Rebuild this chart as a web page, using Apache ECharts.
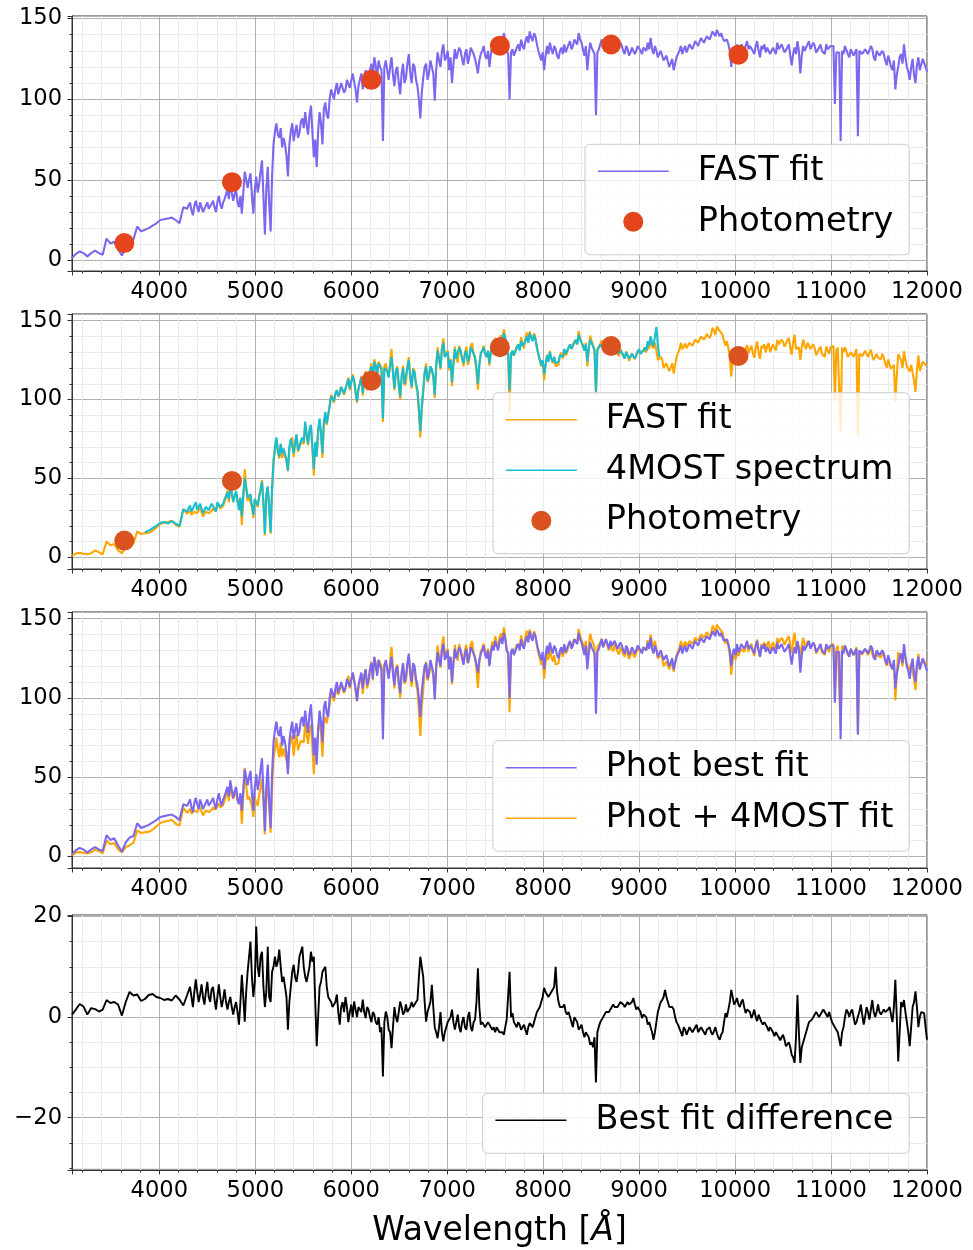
<!DOCTYPE html>
<html><head><meta charset="utf-8">
<script src="https://cdn.jsdelivr.net/npm/echarts@6/dist/echarts.min.js"></script>
<style>html,body{margin:0;padding:0;background:#fff}#chart{width:973px;height:1250px}</style>
</head><body><div id="chart"></div>
<script>
// ---- wavelength grid (Angstrom): 40 A steps up to 4290, then 15 A steps ----
const wave = [
3090,3130,3170,3210,3250,3290,3330,3370,3410,3450,3490,3530,3570,3610,3650,3690,3730,3770,3810,3850,3890,3930,3970,4010,4050,4090,4130,4170,4210,4250,4290,
4320,4335,4350,4365,4380,4395,4410,4425,4440,4455,4470,4485,4500,4515,4530,4545,4560,4575,4590,4605,
4620,4635,4650,4665,4680,4695,4710,4725,4740,4755,4770,4785,4800,4815,4830,4845,4860,4875,4890,4905,
4920,4935,4950,4965,4980,4995,5010,5025,5040,5055,5070,5085,5100,5115,5130,5145,5160,5175,5190,5205,
5220,5235,5250,5265,5280,5295,5310,5325,5340,5355,5370,5385,5400,5415,5430,5445,5460,5475,5490,5505,
5520,5535,5550,5565,5580,5595,5610,5625,5640,5655,5670,5685,5700,5715,5730,5745,5760,5775,5790,5805,
5820,5835,5850,5865,5880,5895,5910,5925,5940,5955,5970,5985,6000,6015,6030,6045,6060,6075,6090,6105,
6120,6135,6150,6165,6180,6195,6210,6225,6240,6255,6270,6285,6300,6315,6330,6345,6360,6375,6390,6405,
6420,6435,6450,6465,6480,6495,6510,6525,6540,6555,6570,6585,6600,6615,6630,6645,6660,6675,6690,6705,
6720,6735,6750,6765,6780,6795,6810,6825,6840,6855,6870,6885,6900,6915,6930,6945,6960,6975,6990,7005,
7020,7035,7050,7065,7080,7095,7110,7125,7140,7155,7170,7185,7200,7215,7230,7245,7260,7275,7290,7305,
7320,7335,7350,7365,7380,7395,7410,7425,7440,7455,7470,7485,7500,7515,7530,7545,7560,7575,7590,7605,
7620,7635,7650,7665,7680,7695,7710,7725,7740,7755,7770,7785,7800,7815,7830,7845,7860,7875,7890,7905,
7920,7935,7950,7965,7980,7995,8010,8025,8040,8055,8070,8085,8100,8115,8130,8145,8160,8175,8190,8205,
8220,8235,8250,8265,8280,8295,8310,8325,8340,8355,8370,8385,8400,8415,8430,8445,8460,8475,8490,8505,
8520,8535,8550,8565,8580,8595,8610,8625,8640,8655,8670,8685,8700,8715,8730,8745,8760,8775,8790,8805,
8820,8835,8850,8865,8880,8895,8910,8925,8940,8955,8970,8985,9000,9015,9030,9045,9060,9075,9090,9105,
9120,9135,9150,9165,9180,9195,9210,9225,9240,9255,9270,9285,9300,9315,9330,9345,9360,9375,9390,9405,
9420,9435,9450,9465,9480,9495,9510,9525,9540,9555,9570,9585,9600,9615,9630,9645,9660,9675,9690,9705,
9720,9735,9750,9765,9780,9795,9810,9825,9840,9855,9870,9885,9900,9915,9930,9945,9960,9975,9990,10005,
10020,10035,10050,10065,10080,10095,10110,10125,10140,10155,10170,10185,10200,10215,10230,10245,10260,10275,10290,10305,
10320,10335,10350,10365,10380,10395,10410,10425,10440,10455,10470,10485,10500,10515,10530,10545,10560,10575,10590,10605,
10620,10635,10650,10665,10680,10695,10710,10725,10740,10755,10770,10785,10800,10815,10830,10845,10860,10875,10890,10905,
10920,10935,10950,10965,10980,10995,11010,11025,11040,11055,11070,11085,11100,11115,11130,11145,11160,11175,11190,11205,
11220,11235,11250,11265,11280,11295,11310,11325,11340,11355,11370,11385,11400,11415,11430,11445,11460,11475,11490,11505,
11520,11535,11550,11565,11580,11595,11610,11625,11640,11655,11670,11685,11700,11715,11730,11745,11760,11775,11790,11805,
11820,11835,11850,11865,11880,11895,11910,11925,11940,11955,11970,11985,12000
];

// ---- photometry-only best fit (FAST fit, panel 1 / Phot best fit, panel 3) ----
const photFit = [
1.5,4,5.5,4.5,2.5,4.5,6,4.5,3.5,13.5,10.5,11.5,7,3,9,12,13,21,18,19,20,21.5,23,25,25.5,26,26.5,25,23,33,32,
36,31,28,34,37,33,30,36,35,30,29,34,36,32,31,35,37,33,30,36,
40,35,32,36,38,41,44,38,48,42,37,41,44,36,33,40,29,42,55,50,
45,50,54,40,29,44,52,42,47,55,62,40,16,44,58,35,18,52,72,80,
85,78,76,82,70,76,72,65,52,72,80,85,74,80,84,76,79,86,88,82,
92,84,78,90,96,80,64,75,58,80,92,85,72,94,98,90,88,100,106,103,
100,106,110,103,104,110,111,104,106,112,113,107,108,116,115,106,98,108,112,116,
106,114,118,108,111,118,122,112,126,121,114,124,120,118,74,120,124,118,112,120,
126,115,108,118,120,110,103,116,122,110,113,122,128,116,110,122,120,112,108,100,
88,104,113,120,122,112,116,124,125,116,99,118,129,124,120,130,134,124,126,130,
118,126,110,122,131,125,124,132,130,125,121,128,131,122,126,132,133,128,125,121,
116,124,128,130,133,127,125,130,120,128,133,130,136,133,130,135,138,134,141,137,
130,128,100,129,131,127,126,132,134,130,137,133,131,136,139,135,142,138,136,141,
139,134,130,127,124,129,118,127,133,128,135,131,128,133,131,127,125,130,132,128,
134,129,130,134,136,131,133,137,138,134,141,137,135,131,127,133,118,128,135,132,
130,128,90,129,131,134,137,132,135,137,134,131,136,133,132,136,135,131,130,135,
133,130,128,133,131,127,129,132,133,128,130,133,134,130,128,132,133,130,135,131,
138,131,128,133,130,126,127,130,129,124,125,127,123,120,121,125,118,122,126,128,
130,133,128,131,133,129,130,134,135,131,132,136,137,133,134,138,139,135,136,139,
140,137,138,142,141,139,143,141,139,141,138,136,135,137,134,130,120,128,131,127,
134,129,131,134,135,131,133,136,131,133,134,130,128,133,136,130,126,133,131,134,
129,132,133,128,127,132,131,128,135,131,130,134,133,129,128,132,134,127,121,128,
132,128,136,130,116,127,133,130,129,134,136,131,131,135,133,129,128,132,134,130,
131,128,134,131,130,133,132,133,97,129,130,129,74,130,128,133,132,128,126,131,
130,127,128,131,77,130,131,128,127,131,132,128,129,133,131,126,124,130,129,127,
126,130,128,124,121,127,124,120,118,124,106,115,120,126,128,122,134,126,120,117,
112,120,125,115,110,121,126,118,119,125,124,120,117
];

// ---- photometry + 4MOST fit (FAST fit, panel 2 / Phot + 4MOST fit, panel 3) ----
const jointFit = [
1.0,2.5,2.9,2.4,2.0,2.7,4.4,3.4,2.0,10.1,7.7,8.5,4.5,2.7,6.0,7.0,8.7,16.5,14.8,15.4,15.6,16.9,19.0,21.2,22.1,22.4,23.2,20.7,19.5,30.7,27.6,
30,27,26,29,29.5,28,27,31.5,28.5,26,26.5,29,29,28,28,29.5,31,29.5,28.5,32,
33.5,31,30,32.5,32.5,38,42.5,35,44,40,36.5,39,41,35,34.5,37,20.6,38,55.9,45,
36,38,39,32,25,37,34,32,39,43,49,34,14,39,44,31,15,43,62,68,
75,67,62.6,72,63,68,64,61,54.5,69,74,76,63.6,72,77,67,67,73,74,72,
84,77,71,80,83,69,52,72,63.8,80,86,78,63,85,88,84,84,96,103,101,
98,103,105.5,102,105.5,108,108,103,102,110,114,106,105.5,116,111.9,104.5,98,106,110,115,
102.5,113,118.2,106,109.5,118,123,111,125.5,122,115.5,124,123,120,85.8,121,122.9,118,114.5,123,
132.2,117,106,118,121,109,99.9,114,121.5,109,110.5,121,126.9,114,107,120,118,109,104.6,92,
76,94,105,117,122.9,111,114,121,118.6,114,101,121,133.2,126,119,133,138.8,127,128,131,
118.5,126,108.5,123,133.5,126,123.5,134,133,126,121,130,133.5,122,125,134,135.8,129,125.5,118,
106.3,122,129.5,131,134.2,129,127,131,121.5,130,135.5,132,139,135,132.2,138,140.8,137,144.5,139,
130.5,128.5,91,129,130.2,128,127.5,134,135,131.5,139.5,135,132.5,138.5,142.5,137,143.2,139.5,138,142,
139,133,128.5,125,121,125,112.2,122,128.5,124,130.9,126,123,127,121,122,122,128,129.9,126,
131.5,128,129.5,133,135,132,135,137,138,135,143.5,139,136.5,134,131,136,121,132,140.5,137,
136,132,103,132,132.9,135,137.5,132,134.5,136,133,130,134.5,131,129.5,134,133,129,127.5,132,
130,127.5,126,130.5,128,124.5,126.8,129,129.2,125.5,128.5,131,131.8,129,128.2,131.5,132.2,130,136.5,132,
140,134,132.5,136,131,125,125,127,125.6,120,119.6,123,120,118,119,123,116.5,122,127,129.5,
131.5,136,131.8,133,135.5,132.5,133.5,136,136.8,134,135,138,138.5,136,137.2,140,141,138,139.5,141.5,
142.5,139,141,145.5,143.8,141,146.2,145,143.5,144.5,141,137,134.2,137,132.5,127,114.6,124,128.5,124,
130.2,126.5,129,131,131.5,129,132.2,134.5,129.2,132,134.2,129.5,126.5,133,136.8,129.5,125.8,134,132.5,135,
130,134,135.8,130,128.8,135,134.8,131,137.8,135,134.6,138,136.5,133.5,133.8,137.5,139,133,128.5,136,
141.1,132,131.6,133,125.1,133,138,134,132,136,137,132,131.5,135,132.5,128,127,132,133.5,129,
129.5,127,133.5,131,129,133,133,134,99,131,133,132,79.8,133,130,133,130.5,127,126,130,
128.5,127,129.5,132,76.9,129,128.5,127.5,128.5,131,130,127,129.5,131.5,127.6,125,124,129,126.5,126,
125.5,129,126.5,123,120.2,125.5,122,119.5,119,122,98.6,115,128.8,129,125,120,130.6,125,121,120,
117.8,122,123,112,104.9,119,128,118,118,124,123.2,122,121.5
];

// ---- best fit difference (panel 4) ----
const bestFitDiff = [
0.5,1.5,2.6,2.1,0.5,1.8,1.6,1.1,1.5,3.4,2.8,3,2.5,0.3,3,5,4.3,4.5,3.2,3.6,4.4,4.6,4,3.8,3.4,3.6,3.3,4.3,3.5,2.3,4.4,
6,4,2,5,7.5,5,3,4.5,6.5,4,2.5,5,7,4,3,5.5,6,3.5,1.5,4,
6.5,4,2,3.5,5.5,3,1.5,3,4,2,0.5,2,3,1,-1.5,3,8.4,4,-0.9,5,
9,12,15,8,4,7,18,10,8,12,13,6,2,5,14,4,3,9,10,12,
10,11,13.4,10,7,8,8,4,-2.5,3,6,9,10.4,8,7,9,12,13,14,10,
8,7,7,10,13,11,12,3,-5.8,0,6,7,9,9,10,6,4,4,3,2,
2,3,4.5,1,-1.5,2,3,1,4,2,-1,1,2.5,0,3.1,1.5,0,2,2,1,
3.5,1,-0.2,2,1.5,0,-1,1,0.5,-1,-1.5,0,-3,-2,-11.8,-1,1.1,0,-2.5,-3,
-6.2,-2,2,0,-1,1,3.1,2,0.5,1,2.5,1,1.1,2,3,2,2,3,3.4,8,
12,10,8,3,-0.9,1,2,3,6.4,2,-2,-3,-4.2,-2,1,-3,-4.8,-3,-2,-1,
-0.5,0,1.5,-1,-2.5,-1,0.5,-2,-3,-1,0,-2,-2.5,0,1,-2,-2.8,-1,-0.5,3,
9.7,2,-1.5,-1,-1.2,-2,-2,-1,-1.5,-2,-2.5,-2,-3,-2,-2.2,-3,-2.8,-3,-3.5,-2,
-0.5,-0.5,9,0,0.8,-1,-1.5,-2,-1,-1.5,-2.5,-2,-1.5,-2.5,-3.5,-2,-1.2,-1.5,-2,-1,
0,1,1.5,2,3,4,5.8,5,4.5,4,4.1,5,5,6,10,5,3,2,2.1,2,
2.5,1,0.5,1,1,-1,-2,0,0,-1,-2.5,-2,-1.5,-3,-4,-3,-3,-4,-5.5,-5,
-6,-4,-13,-3,-1.9,-1,-0.5,0,0.5,1,1,1,1.5,2,2.5,2,2,2,2.5,3,
3,2.5,2,2.5,3,2.5,2.2,3,3.8,2.5,1.5,2,2.2,1,-0.2,0.5,0.8,0,-1.5,-1,
-2,-3,-4.5,-3,-1,1,2,3,3.4,4,5.4,4,3,2,2,2,1.5,0,-1,-1.5,
-1.5,-3,-3.8,-2,-2.5,-3.5,-3.5,-2,-1.8,-3,-3,-2,-1.5,-3,-3.2,-2,-2,-3,-3.5,-2.5,
-2.5,-2,-3,-3.5,-2.8,-2,-3.2,-4,-4.5,-3.5,-3,-1,0.8,0,1.5,3,5.4,4,2.5,3,
3.8,2.5,2,3,3.5,2,0.8,1.5,1.8,1,-0.2,0.5,1.5,0,-0.8,0.5,0.2,-1,-1.5,-1,
-1,-2,-2.8,-2,-1.8,-3,-3.8,-3,-2.8,-4,-4.6,-4,-3.5,-4.5,-5.8,-5.5,-5,-6,-7.5,-8,
-9.1,-4,4.4,-3,-9.1,-6,-5,-4,-3,-2,-1,-1,-0.5,0,0.5,1,1,0,0.5,1,
1.5,1,0.5,0,1,0,-1,-1,-2,-2,-3,-3,-5.8,-3,-2,0,1.5,1,0,1,
1.5,0,-1.5,-1,0.1,1,2.5,0.5,-1.5,0,2,1,-0.5,1.5,3.4,1,0,1,2.5,1,
0.5,1,1.5,1,0.8,1.5,2,0.5,-1,2,7.4,0,-8.8,-3,3,2,3.4,1,-1,-3,
-5.8,-2,2,3,5.1,2,-2,0,1,1,0.8,-2,-4.5
];

// ---- 4MOST spectrum (panel 2), on the grid from specStartWave on ----
const specStartWave = 3850;
const spectrum4most = [
16,17,18.5,20,22,22.5,21.5,23,21.5,20,30.5,29,
33,29,28,33,35,30,29,34,34,28,28,32,33,30,30,34,35,31,29,35,
36,32,31,34,37,39,41,37,46,41,35,39,42,36,30,38,26,40,50,44,
38,38,40,33,27,37,35,33,38,43,48,35,15,40,45,32,16,44,60,70,
76,68,64,72,66,69,68,62,55,70,75,76,66,73,78,68,70,74,76,73,
86,78,72,81,84,70,56,73,64,81,88,79,66,86,92,85,86,96,102,101,
99,104,106,102,104,108,109,104,103,110,113,107,106,115,112,105,99,107,110,114,
104,113,117,107,110,118,121,112,124,121,116,123,121,119,88,120,121,118,114,122,
127,117,107,118,120,110,102,114,120,110,111,120,125,114,108,119,117,110,106,95,
80,95,106,117,121,112,115,121,119,115,103,121,131,126,120,132,136,127,128,130,
120,125,111,123,132,126,125,133,131,126,123,129,131,124,127,133,133,129,127,120,
110,122,129,131,133,129,127,131,123,130,134,132,137,134,132,137,139,137,142,139,
131,129,106,129,131,128,128,133,135,131,137,134,134,137,140,136,142,139,137,141,
138,133,129,125,122,125,116,122,128,124,130,126,124,127,123,123,124,128,129,127,
132,129,130,133,135,132,134,136,138,135,141,138,137,134,131,135,124,132,138,136,
135,131,105,131,133,135,136,132,134,135,133,130,134,131,130,133,132,129,128,131,
130,128,126,130,129,126,127,129,130,126,128,130,132,129,128,131,133,131,137,134,
140,136,134,140,146,135,127
];

// ---- photometry points ----
const photWave = [3635, 4757, 6210, 7549, 8708, 10035];
const photFlux = [10.7, 48.5, 112, 133.2, 133.9, 127.6];

// ---- text ----
const legendLabels = {
  fast1: 'FAST fit', phot1: 'Photometry',
  fast2: 'FAST fit', spec2: '4MOST spectrum', phot2: 'Photometry',
  photfit3: 'Phot best fit', joint3: 'Phot + 4MOST fit',
  diff4: 'Best fit difference'
};
const xAxisTitle = '{n|Wavelength [}{i|Å}{n|]}';

// ---- build ----
const pairs = (xs, ys) => ys.map((y, i) => [xs[i], y]);
const i0 = wave.indexOf(specStartWave);
const specWave = wave.slice(i0, i0 + spectrum4most.length);

const PURPLE = '#7b68ee', ORANGE = '#ffa500', CYAN = '#17becf', BLACK = '#000000';
const FONT = 'DejaVu Sans';
const gridTops = [16, 314, 612, 915];
const gridHeights = [255, 255, 256, 255];
const yCfg = [
  {min: -6.6, max: 151.6, step: 50, minor: 5},
  {min: -7.3, max: 154.2, step: 50, minor: 5},
  {min: -7.2, max: 154.2, step: 50, minor: 5},
  {min: -30.4, max: 20.3, step: 20, minor: 4}
];
const fmtNum = v => (v < 0 ? '\u2212' + Math.abs(v) : String(v));

const grids = gridTops.map((t, i) => ({left: 72, width: 855, top: t, height: gridHeights[i],
  show: true, borderColor: '#333', borderWidth: 1, backgroundColor: 'transparent'}));

const axisCommon = {
  axisLine: {show: true, onZero: false, lineStyle: {color: '#333', width: 1}},
  axisTick: {show: true, inside: false, length: 4.5, lineStyle: {color: '#333', width: 1}},
  splitLine: {show: true, lineStyle: {color: '#b0b0b0', width: 1}},
};

const xAxes = gridTops.map((t, i) => Object.assign({}, axisCommon, {
  type: 'value', gridIndex: i, min: 3090, max: 12000, minInterval: 1000, maxInterval: 1000,
  minorTick: {show: true, splitNumber: 5, length: 2.5, lineStyle: {color: '#333', width: 1}},
  minorSplitLine: {show: true, lineStyle: {color: '#ebebeb', width: 1}},
  axisLabel: {show: true, fontSize: 22.6, fontFamily: FONT, color: '#000', margin: 10,
    formatter: v => (Math.abs(v % 1000) < 1e-6 ? String(v) : '')},
  name: i === 3 ? xAxisTitle : '',
  nameLocation: 'middle', nameGap: 45,
  nameTextStyle: {fontSize: 33, fontFamily: FONT, color: '#000',
    rich: {n: {fontSize: 33, fontFamily: FONT, color: '#000'},
           i: {fontSize: 33, fontFamily: FONT, color: '#000', fontStyle: 'italic'}}}
}));

const yAxes = yCfg.map((c, i) => Object.assign({}, axisCommon, {
  type: 'value', gridIndex: i, min: c.min, max: c.max, minInterval: c.step, maxInterval: c.step,
  minorTick: {show: true, splitNumber: c.minor, length: 2.5, lineStyle: {color: '#333', width: 1}},
  minorSplitLine: {show: true, lineStyle: {color: '#ebebeb', width: 1}},
  axisLabel: {show: true, fontSize: 22.6, fontFamily: FONT, color: '#000', margin: 10,
    formatter: v => (Math.abs(v % c.step) < 1e-6 ? fmtNum(v) : '')}
}));

const lineS = (name, idx, xs, ys, color, z, w) => ({
  type: 'line', name, xAxisIndex: idx, yAxisIndex: idx, data: pairs(xs, ys),
  symbol: 'none', showSymbol: false, lineStyle: {color, width: w}, itemStyle: {color},
  z, animation: false, silent: true
});
const scatterS = (name, idx, color) => ({
  type: 'scatter', name, xAxisIndex: idx, yAxisIndex: idx, data: pairs(photWave, photFlux),
  symbol: 'circle', symbolSize: 20, itemStyle: {color, opacity: 1}, z: 6, animation: false, silent: true
});

const series = [
  lineS('fast1', 0, wave, photFit, PURPLE, 3, 2.1),
  scatterS('phot1', 0, '#e5451a'),
  lineS('fast2', 1, wave, jointFit, ORANGE, 3, 2.1),
  lineS('spec2', 1, specWave, spectrum4most, CYAN, 4, 2.1),
  scatterS('phot2', 1, '#d9521f'),
  lineS('joint3', 2, wave, jointFit, ORANGE, 3, 2.1),
  lineS('photfit3', 2, wave, photFit, PURPLE, 4, 2.1),
  lineS('diff4', 3, wave, bestFitDiff, BLACK, 3, 1.9)
];

const lineItem = n => ({name: n, itemStyle: {opacity: 0}, lineStyle: {width: 1.6}});
const legendBase = (items, top) => ({
  data: items, orient: 'vertical', right: 63.7, top,
  itemWidth: 71, itemHeight: 20, itemGap: 16.5,
  padding: [10, 16, 16, 12],
  backgroundColor: 'rgba(255,255,255,0.8)', borderColor: '#cccccc', borderWidth: 1, borderRadius: 5,
  selectedMode: false, z: 10,
  formatter: n => legendLabels[n],
  textStyle: {fontSize: 33.5, fontFamily: FONT, color: '#000', lineHeight: 33, padding: [0, 0, 0, 24]}
});

const option = {
  backgroundColor: '#ffffff',
  animation: false,
  grid: grids,
  xAxis: xAxes,
  yAxis: yAxes,
  legend: [
    legendBase([lineItem('fast1'), 'phot1'], 144.3),
    legendBase([lineItem('fast2'), lineItem('spec2'), 'phot2'], 392.7),
    legendBase([lineItem('photfit3'), lineItem('joint3')], 740.7),
    legendBase([lineItem('diff4')], 1093.3)
  ],
  series
};

const chart = echarts.init(document.getElementById('chart'), null, {renderer: 'canvas'});
chart.setOption(option);
</script>
</body></html>
